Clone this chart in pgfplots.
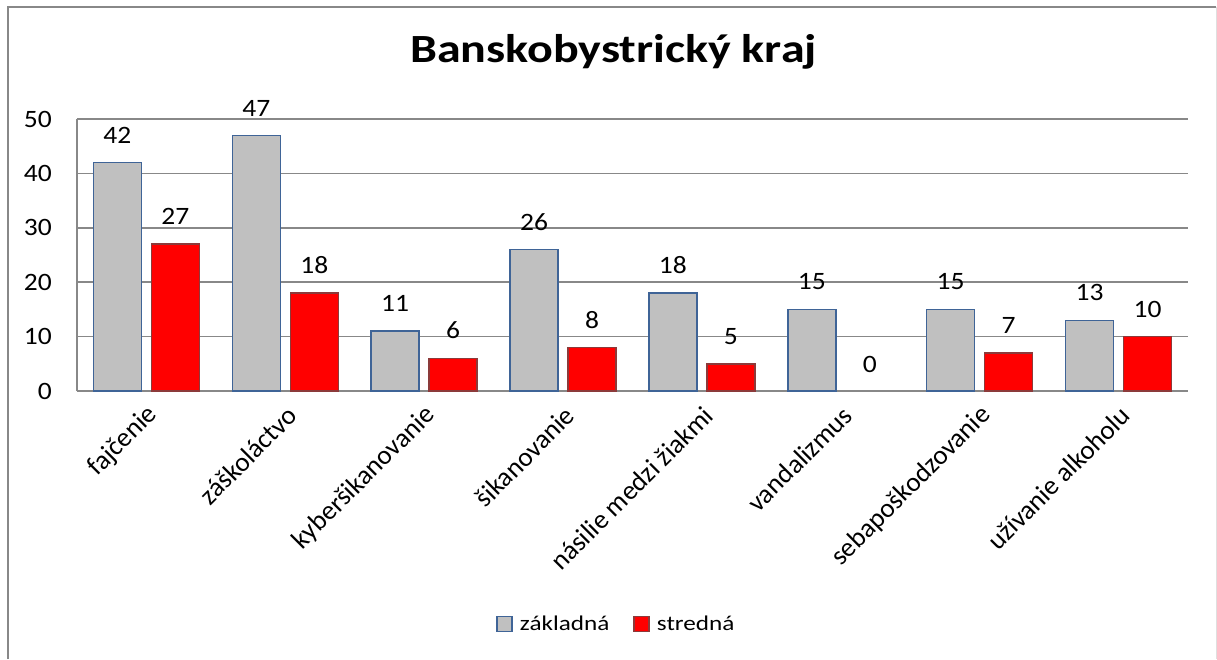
\documentclass[border=0pt]{standalone}
\usepackage{fontspec}
\setmainfont{Carlito}
\usepackage{pgfplots}
\pgfplotsset{compat=1.18}
\definecolor{barg}{HTML}{C0C0C0}
\definecolor{bargb}{HTML}{3F6497}
\definecolor{barr}{HTML}{FF0000}
\definecolor{barrb}{HTML}{8C3A3A}
\definecolor{gridc}{HTML}{888888}
\newcommand{\lblfont}{\fontsize{25}{30}\selectfont}
\newcommand{\catfont}{\fontsize{27}{32}\selectfont}
\newcommand{\legfont}{\fontsize{21}{25}\selectfont}
\newcommand{\wide}[1]{\scalebox{1.2}[1]{#1}}
\begin{document}
\begin{tikzpicture}
\begin{axis}[
  at={(0pt,0pt)}, anchor=south west,
  scale only axis, width=1111pt, height=272pt,
  ybar, bar width=48pt,
  xmin=-0.5, xmax=7.5, ymin=0, ymax=50,
  xtick={0,1,2,3,4,5,6,7},
  xticklabels={fajčenie, záškoláctvo, kyberšikanovanie, šikanovanie, násilie medzi žiakmi, vandalizmus, sebapoškodzovanie, užívanie alkoholu},
  ytick={0,10,20,30,40,50},
  axis x line*=bottom, axis y line*=left,
  axis line style={gridc, line width=1.5pt, -},
  ymajorgrids, grid style={gridc, line width=1.5pt},
  major tick length=0pt,
  /pgf/number format/assume math mode=true,
  tick label style={text=black},
  yticklabel style={font=\lblfont, xshift=-25pt, xscale=1.1, anchor=east, inner sep=0pt},
  xticklabel style={font=\catfont, xshift=7pt, yshift=-20pt, rotate=45, anchor=east, inner sep=0pt},
  nodes near coords,
  every node near coord/.append style={font=\lblfont, text=black, xscale=1.1, anchor=south, inner sep=0pt, yshift=18.5pt},
  title={Banskobystrický kraj},
  title style={at={(axis description cs:0.4829,1.1864)}, anchor=base, font=\fontsize{40}{48}\selectfont\bfseries, xscale=1.2, inner sep=0pt},
  legend style={at={(axis description cs:0.4856,-0.857)}, anchor=center, draw=none, font=\legfont,
    /tikz/every odd column/.append style={column sep=5pt},
    /tikz/every even column/.append style={column sep=22pt}},
  legend columns=-1,
  legend image code/.code={\draw[#1, line width=1.5pt] (0pt,-7.5pt) rectangle (15pt,7.5pt);},
]
\addplot[bar shift=-29pt, fill=barg, draw=bargb, line width=1.5pt] coordinates {(0,42) (1,47) (2,11) (3,26) (4,18) (5,15) (6,15) (7,13)};
\addplot[bar shift=29pt, fill=barr, draw=barrb, line width=1.5pt] coordinates {(0,27) (1,18) (2,6) (3,8) (4,5) (6,7) (7,10)};
\addplot[bar shift=29pt, draw=none, fill=none, forget plot] coordinates {(5,0)};
\legend{\wide{základná}, \wide{stredná}}
\end{axis}
\draw[gridc, line width=1.5pt] (-69pt,-268pt) -- (-69pt,384pt) -- (1139pt,384pt);
\draw[gray!25, line width=1pt] (1139pt,384pt) -- (1139pt,-268pt);
\pgfresetboundingbox
\path (-77pt,-268pt) rectangle (1140pt,391pt);
\end{tikzpicture}
\end{document}
